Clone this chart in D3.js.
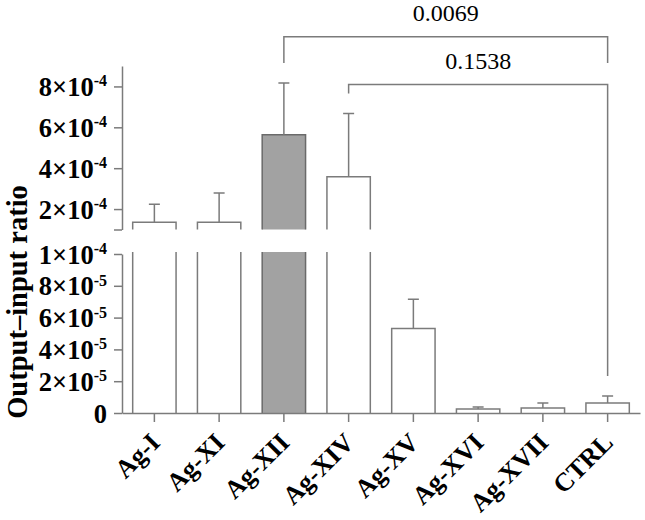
<!DOCTYPE html>
<html>
<head>
<meta charset="utf-8">
<script src="https://cdn.jsdelivr.net/npm/d3@7"></script>
<style>
  body { margin: 0; background: #fff; }
  svg { display: block; }
</style>
</head>
<body>
<div id="chart"></div>
<script>
const width = 645;
const height = 520;
const serif = "'Liberation Serif', 'Times New Roman', 'DejaVu Serif', serif";

const categories = ['Ag-I', 'Ag-XI', 'Ag-XII', 'Ag-XIV', 'Ag-XV', 'Ag-XVI', 'Ag-XVII', 'CTRL'];
const means = [1.35e-4, 1.35e-4, 5.64e-4, 3.58e-4, 5.32e-5, 2.5e-6, 3.2e-6, 6.3e-6];
const errors = [0.89e-4, 1.43e-4, 2.53e-4, 3.09e-4, 1.83e-5, 1.3e-6, 3.1e-6, 4.4e-6];
const highlighted = 'Ag-XII';

const upperTicks = [1e-4, 2e-4, 4e-4, 6e-4, 8e-4];
const upperTickLabels = [null, ['2', '-4'], ['4', '-4'], ['6', '-4'], ['8', '-4']];
const lowerTicks = [0, 2e-5, 4e-5, 6e-5, 8e-5, 1e-4];
const lowerTickLabels = [['0'], ['2', '-5'], ['4', '-5'], ['6', '-5'], ['8', '-5'], ['1', '-4']];

const comparisons = [
  {from: 'Ag-XII', to: 'CTRL', p: '0.0069'},
  {from: 'Ag-XIV', to: 'CTRL', p: '0.1538'}
];

const grey = '#7b7b7b';
const axisX = 122;

const x = d3.scaleBand()
  .domain(categories)
  .range([axisX, 640])
  .paddingInner(0.33)
  .paddingOuter(0.165);

// broken axis: two segments
const yUpper = d3.scaleLinear().domain([1e-4, 9e-4]).range([229.5, 66]);
const yLower = d3.scaleLinear().domain([0, 1e-4]).range([413, 254]);
const segments = [
  {scale: yUpper, ticks: upperTicks, labels: upperTickLabels},
  {scale: yLower, ticks: lowerTicks, labels: lowerTickLabels}
];

const data = categories.map((c, i) => ({cat: c, mean: means[i], err: errors[i]}));

const segOf = d => d.mean > 1e-4 ? yUpper : yLower;
const errTopPx = d => segOf(d)(d.mean + d.err);

const svg = d3.select('#chart').append('svg')
  .attr('width', width)
  .attr('height', height)
  .attr('font-family', serif);

// bars
segments.forEach(seg => {
  const s = seg.scale;
  const [lo, hi] = s.domain();
  const g = svg.append('g');
  data.filter(d => d.mean > lo).forEach(d => {
    const x0 = x(d.cat), x1 = x(d.cat) + x.bandwidth();
    const inside = d.mean <= hi;
    const top = inside ? s(d.mean) : s(hi) - (s === yLower ? 2 : 0);
    const bottom = s(lo);
    if (d.cat === highlighted) {
      g.append('rect')
        .attr('x', x0).attr('y', top)
        .attr('width', x1 - x0).attr('height', bottom - top)
        .attr('fill', '#a2a2a2');
    }
    const p = d3.path();
    p.moveTo(x0, bottom);
    p.lineTo(x0, top);
    if (inside) p.lineTo(x1, top); else p.moveTo(x1, top);
    p.lineTo(x1, bottom);
    g.append('path')
      .attr('d', p.toString())
      .attr('fill', 'none')
      .attr('stroke', d.cat === highlighted ? '#6a6a6a' : grey)
      .attr('stroke-width', 1.5);
    if (inside) {
      const cx = x(d.cat) + x.bandwidth() / 2;
      const ye = s(d.mean + d.err);
      g.append('path')
        .attr('d', `M${cx},${top}V${ye}M${cx - 5.5},${ye}H${cx + 5.5}`)
        .attr('fill', 'none')
        .attr('stroke', grey)
        .attr('stroke-width', 1.5);
    }
  });
});

// y axes
const tickLabel = (sel, lab) => {
  if (!lab) return;
  sel.append('tspan').text(lab.length > 1 ? lab[0] + '×10' : lab[0]);
  if (lab.length > 1) {
    sel.append('tspan')
      .attr('dy', -9.5)
      .attr('font-size', 16)
      .text(lab[1]);
  }
};

segments.forEach(seg => {
  const ax = svg.append('g')
    .attr('transform', `translate(${axisX},0)`)
    .call(d3.axisLeft(seg.scale).tickValues(seg.ticks).tickSize(8).tickSizeOuter(0).tickFormat(''));
  ax.select('.domain').attr('stroke', grey).attr('stroke-width', 1.5);
  ax.selectAll('.tick line').attr('stroke', grey).attr('stroke-width', 1.5);
  seg.ticks.forEach((t, i) => {
    const txt = svg.append('text')
      .attr('x', axisX - 15)
      .attr('y', seg.scale(t) + 9.5)
      .attr('text-anchor', 'end')
      .attr('font-family', serif)
      .attr('font-size', 26.5)
      .attr('font-weight', 'bold');
    tickLabel(txt, seg.labels[i]);
  });
});

// x axis
const xAxis = svg.append('g')
  .attr('transform', `translate(0,${yLower(0)})`)
  .call(d3.axisBottom(x).tickSize(9).tickSizeOuter(0).tickFormat(''));
xAxis.select('.domain').attr('stroke', grey).attr('stroke-width', 1.5);
xAxis.selectAll('.tick line').attr('stroke', grey).attr('stroke-width', 1.5);

svg.append('g').selectAll('text')
  .data(categories)
  .join('text')
  .attr('transform', d => `translate(${x(d) + x.bandwidth() / 2 + 7},${yLower(0) + 31}) rotate(-45)`)
  .attr('text-anchor', 'end')
  .attr('font-family', serif)
  .attr('font-size', 26)
  .attr('font-weight', 'bold')
  .text(d => d);

// y title
svg.append('text')
  .attr('transform', 'translate(27,302) rotate(-90)')
  .attr('text-anchor', 'middle')
  .attr('font-family', serif)
  .attr('font-size', 28.5)
  .attr('font-weight', 'bold')
  .text('Output–input ratio');

// significance brackets
const byCat = new Map(data.map(d => [d.cat, d]));
const levels = [36.7, 84.5];
comparisons.forEach((c, i) => {
  const a = byCat.get(c.from), b = byCat.get(c.to);
  const xa = x(c.from) + x.bandwidth() / 2;
  const xb = x(c.to) + x.bandwidth() / 2;
  const yl = levels[i];
  const ya = errTopPx(a) - 20;
  // the upper bracket stops short above the lower one
  const yb = i < comparisons.length - 1 ? ya : errTopPx(b) - 20;
  svg.append('path')
    .attr('d', `M${xa},${ya}V${yl}H${xb}V${yb}`)
    .attr('fill', 'none')
    .attr('stroke', grey)
    .attr('stroke-width', 1.5);
  svg.append('text')
    .attr('x', (xa + xb) / 2)
    .attr('y', yl - 16)
    .attr('text-anchor', 'middle')
    .attr('font-family', serif)
    .attr('font-size', 24)
    .text(c.p);
});
</script>
</body>
</html>
